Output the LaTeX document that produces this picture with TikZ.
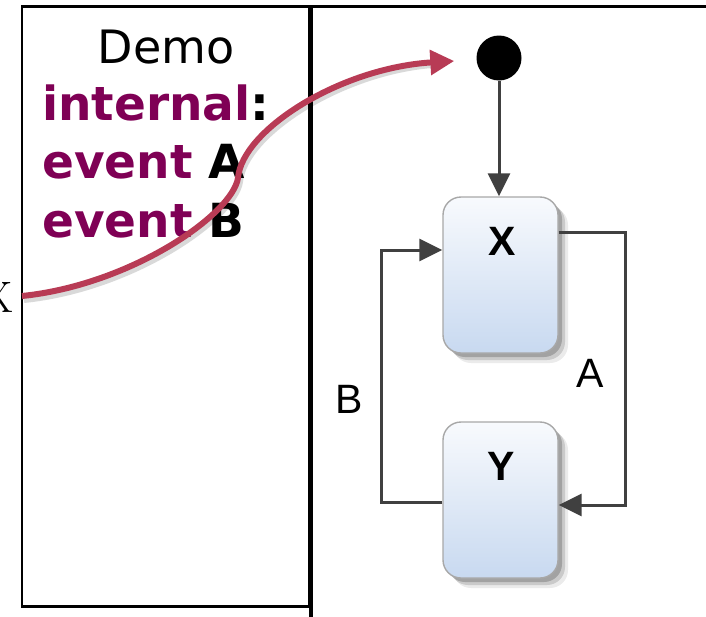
\documentclass[tikz,border=0pt]{standalone}
\usepackage{fontspec}
\newfontfamily\dvs{DejaVu Sans}
\newfontfamily\las{Liberation Sans}
\usetikzlibrary{arrows.meta,shadings,shadows,calc}
\definecolor{kw}{HTML}{7F0055}
\definecolor{curvered}{HTML}{B83B55}
\definecolor{conngray}{HTML}{404040}
\definecolor{stborder}{HTML}{A8A8A8}
\definecolor{sttop}{HTML}{F8FAFD}
\definecolor{stbot}{HTML}{C8D9F0}
\begin{document}
\begin{tikzpicture}[x=1pt,y=-1pt,
  conn/.style={draw=conngray, line width=3pt, -{Triangle[length=23pt,width=22pt]}},
  statebox/.style={rectangle, rounded corners=18pt, draw=stborder, line width=1.4pt,
    top color=sttop, bottom color=stbot, minimum width=115pt, minimum height=156pt, inner sep=0pt,
    drop shadow={shadow xshift=10pt, shadow yshift=-10pt, opacity=0.08, fill=black},
    drop shadow={shadow xshift=7pt, shadow yshift=-7pt, opacity=0.14, fill=black},
    drop shadow={shadow xshift=4pt, shadow yshift=-4pt, opacity=0.2, fill=black}},
  statelabel/.style={font=\las\bfseries\fontsize{41}{41}\selectfont, anchor=base, inner sep=0pt},
  translabel/.style={font=\las\fontsize{41}{41}\selectfont, anchor=base, inner sep=0pt},
  kwtext/.style={font=\dvs\bfseries\fontsize{47}{47}\selectfont, anchor=base west, inner sep=0pt}]
\useasboundingbox (0,0) rectangle (706,616);
% compartments
\draw[line width=2.4pt] (22,6.5) rectangle (309,606.5);
\draw[line width=3.2pt] (311,620) -- (311,6.5) -- (710,6.5);
% texts in left compartment
\node[font=\dvs\fontsize{46}{46}\selectfont, anchor=base, inner sep=0pt] (demo) at (166,63) {Demo};
\node[kwtext] (l1) at (42,120) {\textcolor{kw}{internal}:};
\node[kwtext] (l2) at (42,178) {\textcolor{kw}{event} A};
\node[kwtext] (l3) at (42,237) {\textcolor{kw}{event} B};
\node[font=\fontsize{44}{44}\selectfont, anchor=base east, inner sep=0pt] (xl) at (13,312) {X};
% states
\node[circle, fill=black, minimum size=45pt, inner sep=0pt] (init) at (499,58) {};
\node[statebox] (X) at (500.5,275) {};
\node[statebox] (Y) at (500.5,500) {};
\node[statelabel] (Xlab) at (502,255) {X};
\node[statelabel] (Ylab) at (501,480) {Y};
% transitions
\draw[conn] (init.south) -- (init.south |- X.north);
\draw[conn] ([yshift=43pt]X.east) -- ++(67,0) |- ([yshift=-5pt]Y.east);
\draw[conn] ([yshift=-2pt]Y.west) -- ++(-61,0) |- ([yshift=25pt]X.west);
\node[translabel] (lA) at (590,387) {A};
\node[translabel] (lB) at (349,413) {B};
% red curve
\coordinate (src) at (22,296);
\coordinate (tgt) at ([xshift=-22pt,yshift=-3pt]init.west);
\draw[line width=6pt, draw=black, opacity=0.15]
  ([xshift=2pt,yshift=-4pt]src) .. controls (132,289) and (234,219) .. (240,182)
  .. controls (244,134) and (342,72) .. ([xshift=-22pt,yshift=-4pt]tgt);
\draw[line width=6pt, draw=curvered, -{Triangle[length=24pt,width=24pt]}]
  (src) .. controls (130,285) and (232,215) .. (238,178)
  .. controls (242,130) and (340,68) .. (tgt);
\end{tikzpicture}
\end{document}
